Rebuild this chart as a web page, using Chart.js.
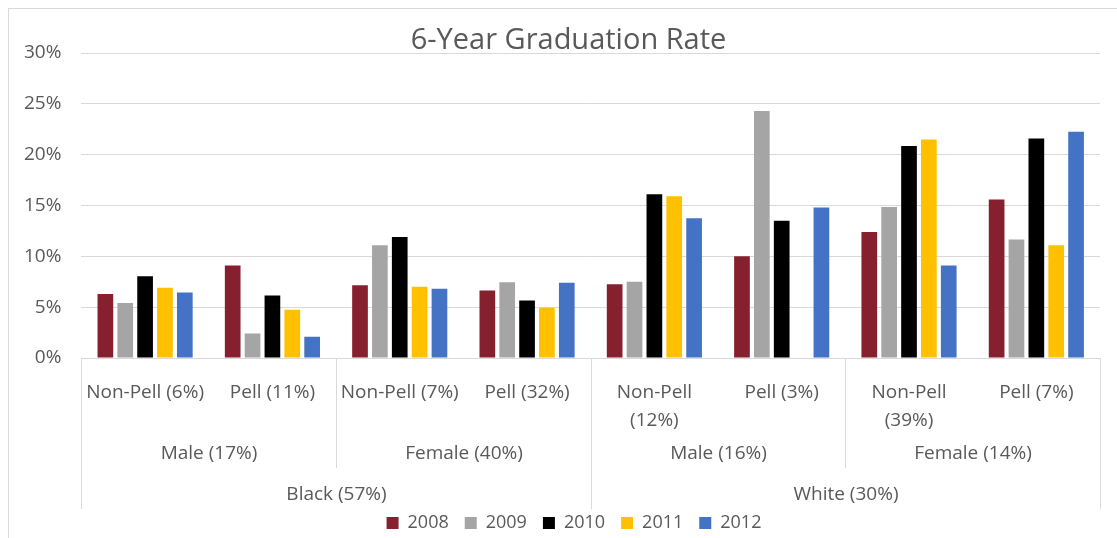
<!DOCTYPE html>
<html>
<head>
<meta charset="utf-8">
<script src="https://cdn.jsdelivr.net/npm/chart.js@4.4.1/dist/chart.umd.min.js"></script>
<style>
  html, body { margin: 0; padding: 0; background: #fff; overflow: hidden; }
  #wrap { width: 1117px; height: 538px; position: relative; }
</style>
</head>
<body>
<div id="wrap"><canvas id="chart" width="1117" height="538"></canvas></div>
<script>
// categories, innermost level first
const pellLabels = ['Non-Pell (6%)', 'Pell (11%)', 'Non-Pell (7%)', 'Pell (32%)',
  ['Non-Pell', '(12%)'], 'Pell (3%)', ['Non-Pell', '(39%)'], 'Pell (7%)'];
const genderLabels = ['Male (17%)', 'Female (40%)', 'Male (16%)', 'Female (14%)'];
const raceLabels = ['Black (57%)', 'White (30%)'];

const years = ['2008', '2009', '2010', '2011', '2012'];
const colors = ['#86202F', '#A5A5A5', '#000000', '#FFC000', '#4472C4'];

// graduation rate, percent
const rate2008 = [6.3, 9.1, 7.15, 6.65, 7.25, 10.0, 12.4, 15.6];
const rate2009 = [5.4, 2.4, 11.1, 7.45, 7.5, 24.3, 14.85, 11.65];
const rate2010 = [8.05, 6.15, 11.9, 5.65, 16.1, 13.5, 20.85, 21.6];
const rate2011 = [6.9, 4.75, 7.0, 4.95, 15.9, null, 21.5, 11.1];
const rate2012 = [6.45, 2.1, 6.8, 7.4, 13.75, 14.8, 9.1, 22.25];

const yTicks = [0, 5, 10, 15, 20, 25, 30];

const FONT = "'Open Sans', sans-serif";
const TEXT = '#595959';
const LINE = '#D9D9D9';

const series = [rate2008, rate2009, rate2010, rate2011, rate2012];

// group labels + separators under the x axis, plus frame and title
const extras = {
  id: 'extras',
  afterLayout(chart) {
    // legend is centred on the full (cropped) chart in the original
    const L = chart.legend;
    L.left += 22; L.right += 22;
  },
  beforeDraw(chart) {
    const c = chart.ctx;
    c.save();
    c.strokeStyle = LINE;
    c.lineWidth = 1;
    c.strokeRect(8.5, 8.5, chart.width + 20, chart.height + 20);
    c.restore();
  },
  afterDraw(chart) {
    const c = chart.ctx;
    const x = chart.scales.x;
    const area = chart.chartArea;
    const half = (x.getPixelForValue(1) - x.getPixelForValue(0)) / 2;
    const edge = i => Math.round(x.getPixelForValue(i) - half) + 0.5;

    c.save();
    c.strokeStyle = LINE;
    c.lineWidth = 1;
    // separators: race level long, gender level shorter
    [0, 4, 8].forEach(i => {
      c.beginPath(); c.moveTo(edge(i), area.bottom); c.lineTo(edge(i), area.bottom + 151); c.stroke();
    });
    [2, 6].forEach(i => {
      c.beginPath(); c.moveTo(edge(i), area.bottom); c.lineTo(edge(i), area.bottom + 110); c.stroke();
    });

    c.fillStyle = TEXT;
    c.font = '19px ' + FONT;
    c.textAlign = 'center';
    c.textBaseline = 'middle';
    genderLabels.forEach((lab, g) => {
      const cx = (edge(g * 2) + edge(g * 2 + 2)) / 2;
      c.fillText(lab, cx, area.bottom + 96);
    });
    raceLabels.forEach((lab, r) => {
      const cx = (edge(r * 4) + edge(r * 4 + 4)) / 2;
      c.fillText(lab, cx, area.bottom + 137);
    });

    // title sits over the plot, like the original
    c.font = '29px ' + FONT;
    c.textBaseline = 'alphabetic';
    c.fillText('6-Year Graduation Rate', chart.width / 2 + 10, 49);
    c.restore();
  }
};

new Chart(document.getElementById('chart'), {
  type: 'bar',
  data: {
    labels: pellLabels,
    datasets: years.map((yr, i) => ({
      label: yr,
      data: series[i],
      backgroundColor: colors[i],
      borderWidth: 0,
      categoryPercentage: 0.78,
      barPercentage: 0.79
    }))
  },
  options: {
    responsive: false,
    animation: false,
    layout: { padding: { left: 4, right: 17, top: 53, bottom: -4 } },
    plugins: {
      legend: {
        position: 'bottom',
        labels: {
          color: TEXT,
          font: { size: 18, family: FONT },
          boxWidth: 12,
          boxHeight: 12,
          padding: 16
        }
      },
      tooltip: { enabled: false },
      title: { display: false }
    },
    scales: {
      x: {
        grid: { display: false },
        border: { display: true, color: LINE },
        ticks: {
          color: TEXT,
          font: { size: 19, family: FONT, lineHeight: 1.45 },
          padding: 13,
          autoSkip: false,
          maxRotation: 0
        },
        afterFit(scale) { scale.height = 140; }
      },
      y: {
        min: 0,
        max: 30,
        afterBuildTicks(scale) { scale.ticks = yTicks.map(v => ({ value: v })); },
        grid: { color: LINE, drawTicks: false },
        border: { display: false },
        ticks: {
          color: TEXT,
          font: { size: 19, family: FONT },
          padding: 20,
          callback: v => v + '%'
        }
      }
    }
  },
  plugins: [extras]
});
</script>
</body>
</html>
